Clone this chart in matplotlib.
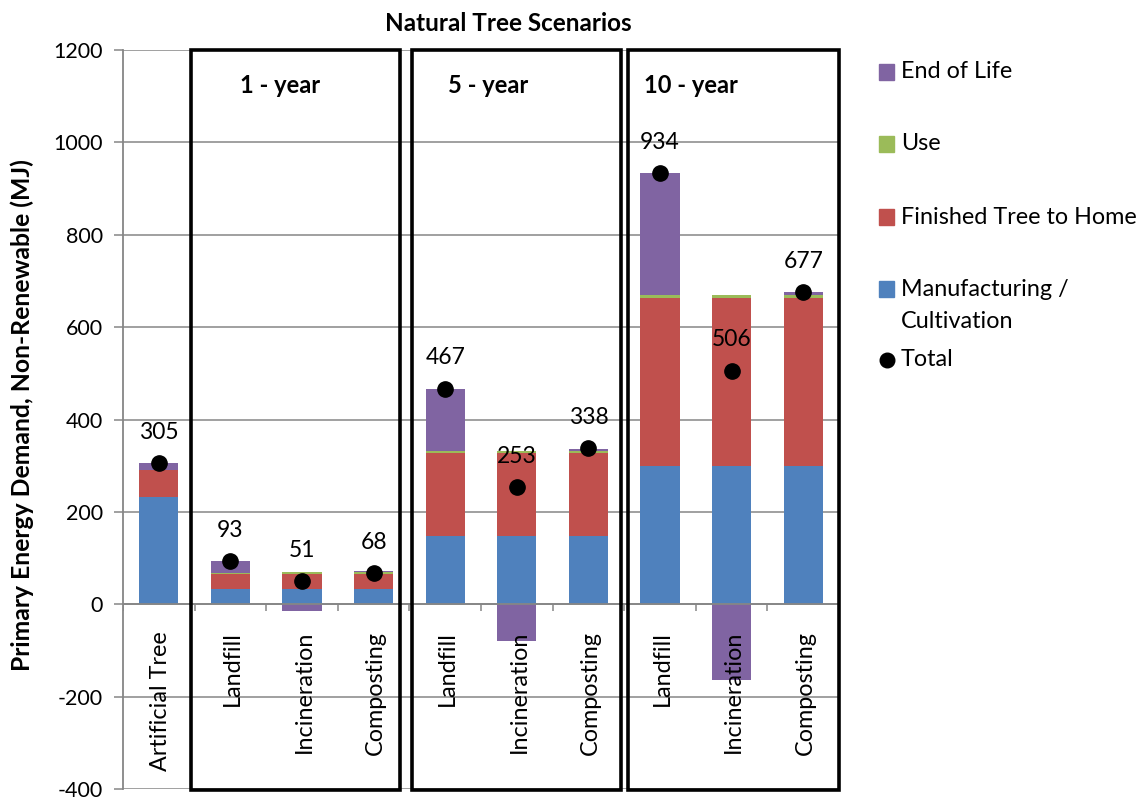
import numpy as np
import matplotlib
matplotlib.use("Agg")
import matplotlib.pyplot as plt
from matplotlib.patches import Rectangle
from matplotlib.lines import Line2D

plt.rcParams['font.family'] = ['Lato', 'DejaVu Sans']
plt.rcParams['axes.unicode_minus'] = False

# data (MJ)
categories = ['Artificial Tree', 'Landfill', 'Incineration', 'Composting',
              'Landfill', 'Incineration', 'Composting',
              'Landfill', 'Incineration', 'Composting']
manufacturing = [232, 32, 32, 32, 147, 147, 147, 299, 299, 299]
finished_tree = [58, 34, 34, 34, 181, 181, 181, 363, 363, 363]
use_phase = [0, 1, 4, 3, 4, 4, 4, 8, 8, 8]
end_of_life = [15, 26, -15, 2, 135, -80, 4, 263, -164, 7]
totals = [305, 93, 51, 68, 467, 253, 338, 934, 506, 677]

groups = ['1 - year', '5 - year', '10 - year']

series_names = ['Manufacturing /\nCultivation', 'Finished Tree to Home', 'Use', 'End of Life']
series_vals = [manufacturing, finished_tree, use_phase, end_of_life]
colors = ['#4F81BD', '#C0504D', '#9BBB59', '#8064A2']
grid_col = '#868686'

W, H = 1146, 799
fig = plt.figure(figsize=(W / 100, H / 100), dpi=100)


def fx(px):
    return px / W


def fy(py):
    return 1 - py / H


ax = fig.add_axes([fx(123), fy(789), fx(839) - fx(123), fy(50) - fy(789)])

x = np.arange(len(categories))
pos_base = np.zeros(len(x))
neg_base = np.zeros(len(x))
for vals, col in zip(series_vals, colors):
    v = np.array(vals, dtype=float)
    bottom = np.where(v >= 0, pos_base, neg_base)
    ax.bar(x, v, 0.545, bottom=bottom, color=col, edgecolor='none', zorder=2)
    pos_base += np.where(v >= 0, v, 0)
    neg_base += np.where(v < 0, v, 0)

# totals
ax.plot(x, totals, 'o', color='black', markersize=11, zorder=4, clip_on=False)
for xi, t in zip(x, totals):
    ax.annotate(str(t), (xi, t), xytext=(0, 22), textcoords='offset points',
                ha='center', va='center', fontsize=16.5, zorder=5)

ax.set_xlim(-0.5, len(categories) - 0.5)
ax.set_ylim(-400, 1200)
ax.set_yticks(np.arange(-400, 1201, 200))
ax.yaxis.grid(True, color=grid_col, lw=1.1)
ax.set_axisbelow(True)
for s in ['top', 'right', 'bottom']:
    ax.spines[s].set_visible(False)
ax.spines['left'].set_color(grid_col)
ax.spines['left'].set_linewidth(1.3)
ax.tick_params(axis='y', colors=grid_col, labelcolor='black', length=6.5,
               width=1.1, labelsize=15.5, pad=8)
ax.set_xticks([])

# category axis at zero with separator ticks
ax.axhline(0, color=grid_col, lw=1.3, zorder=3)
ax.vlines(np.arange(len(categories) + 1) - 0.5, -15, 0, color=grid_col, lw=1.1, zorder=3)
for xi, name in zip(x, categories):
    ax.text(xi + 0.03, -58, name, rotation=90, ha='center', va='top', fontsize=16.8, zorder=6)

# scenario boxes
box_edges = [(0.45, 3.37), (3.53, 6.45), (6.55, 9.5)]
label_x = [1.69, 4.60, 7.43]
for (x0, x1), g, lx in zip(box_edges, groups, label_x):
    ax.add_patch(Rectangle((x0, -403), x1 - x0, 1603, fill=False, ec='black',
                           lw=2.6, zorder=7, clip_on=False))
    ax.text(lx, 1107, g, ha='center', va='baseline', fontsize=17, fontweight='bold')

fig.text(fx(508), fy(31), 'Natural Tree Scenarios', ha='center', va='baseline',
         fontsize=17.5, fontweight='bold')
fig.text(fx(22), fy(415), 'Primary Energy Demand, Non-Renewable (MJ)', rotation=90,
         ha='center', va='center', fontsize=17.8, fontweight='bold')

# legend, drawn by hand to follow the original spacing
leg_items = list(zip(series_names, colors))[::-1] + [('Total', None)]
leg_y = [72, 144, 217, 289, 360]
for (name, col), yy in zip(leg_items, leg_y):
    if col is None:
        fig.add_artist(Line2D([fx(886.5)], [fy(yy)], marker='o', color='black',
                              markersize=10.5, transform=fig.transFigure))
    else:
        fig.add_artist(Rectangle((fx(879), fy(yy + 7.5)), fx(15), 15 / H,
                                 color=col, transform=fig.transFigure))
    for k, line in enumerate(name.split('\n')):
        fig.text(fx(901), fy(yy + 33 * k), line, ha='left', va='center', fontsize=16.8)

fig.savefig('out.png', dpi=100)
